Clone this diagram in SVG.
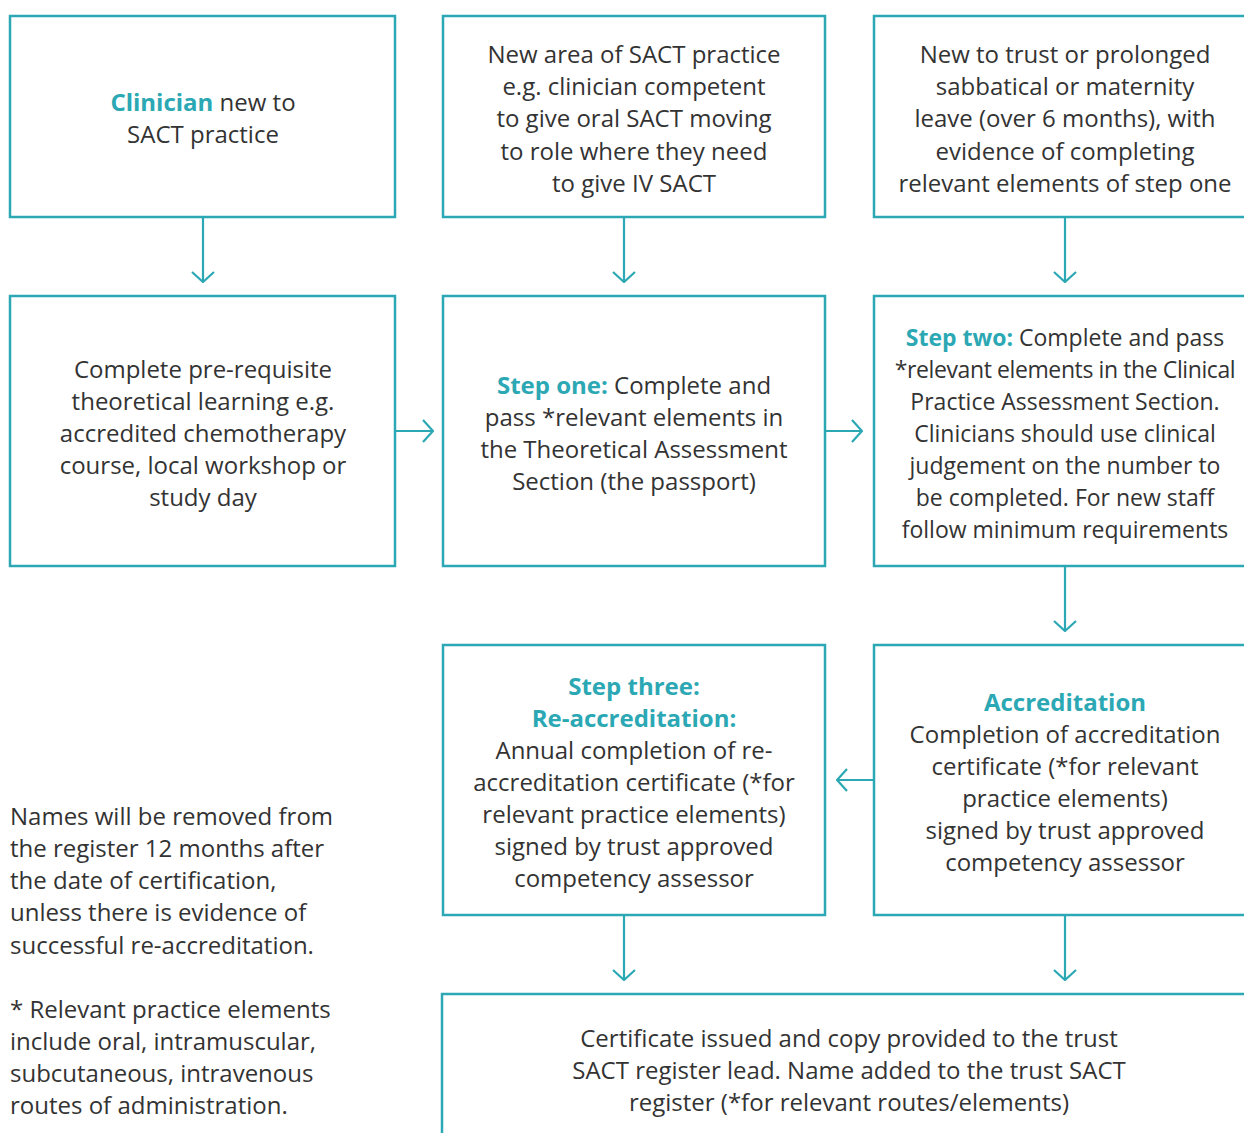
<svg xmlns="http://www.w3.org/2000/svg" width="1244" height="1133" viewBox="0 0 1244 1133">
<style>
.box{fill:#fff;stroke:#2ba8b4;stroke-width:2.5}
.t{font-family:"Open Sans","Noto Sans",sans-serif;font-size:24px;fill:#333;text-anchor:middle}
.s{font-size:23px}
.l{font-family:"Open Sans","Noto Sans",sans-serif;font-size:24px;fill:#333}
.b{font-weight:bold;fill:#2ba8b4}
.c{fill:none;stroke:#2ba8b4;stroke-width:2.2}
</style>
<defs>
<marker id="ah" viewBox="0 0 12 24" refX="11" refY="12" markerWidth="12" markerHeight="24" markerUnits="userSpaceOnUse" orient="auto">
<path d="M1,1 L11,12 L1,23" fill="none" stroke="#2ba8b4" stroke-width="2.2"/>
</marker>
</defs>
<rect width="1244" height="1133" fill="#fff"/>
<g id="connectors">
<line class="c" x1="203" y1="217" x2="203" y2="282" marker-end="url(#ah)"/>
<line class="c" x1="624" y1="217" x2="624" y2="282" marker-end="url(#ah)"/>
<line class="c" x1="1065" y1="217" x2="1065" y2="282" marker-end="url(#ah)"/>
<line class="c" x1="395" y1="431" x2="433" y2="431" marker-end="url(#ah)"/>
<line class="c" x1="825" y1="431" x2="862" y2="431" marker-end="url(#ah)"/>
<line class="c" x1="1065" y1="566" x2="1065" y2="631" marker-end="url(#ah)"/>
<line class="c" x1="874" y1="780" x2="837" y2="780" marker-end="url(#ah)"/>
<line class="c" x1="624" y1="915" x2="624" y2="980" marker-end="url(#ah)"/>
<line class="c" x1="1065" y1="915" x2="1065" y2="980" marker-end="url(#ah)"/>
</g>
<g id="n1"><rect class="box" x="10" y="16" width="385" height="201"/>
<text class="t"><tspan x="203" y="111"><tspan class="b">Clinician</tspan> new to</tspan><tspan x="203" y="143">SACT practice</tspan></text></g>
<g id="n2"><rect class="box" x="443" y="16" width="382" height="201"/>
<text class="t"><tspan x="634" y="63">New area of SACT practice</tspan><tspan x="634" y="95">e.g. clinician competent</tspan><tspan x="634" y="127">to give oral SACT moving</tspan><tspan x="634" y="160">to role where they need</tspan><tspan x="634" y="192">to give IV SACT</tspan></text></g>
<g id="n3"><rect class="box" x="874" y="16" width="390" height="201"/>
<text class="t"><tspan x="1065" y="63">New to trust or prolonged</tspan><tspan x="1065" y="95">sabbatical or maternity</tspan><tspan x="1065" y="127">leave (over 6 months), with</tspan><tspan x="1065" y="160">evidence of completing</tspan><tspan x="1065" y="192">relevant elements of step one</tspan></text></g>
<g id="n4"><rect class="box" x="10" y="296" width="385" height="270"/>
<text class="t"><tspan x="203" y="378">Complete pre-requisite</tspan><tspan x="203" y="410">theoretical learning e.g.</tspan><tspan x="203" y="442">accredited chemotherapy</tspan><tspan x="203" y="474">course, local workshop or</tspan><tspan x="203" y="506">study day</tspan></text></g>
<g id="n5"><rect class="box" x="443" y="296" width="382" height="270"/>
<text class="t"><tspan x="634" y="394"><tspan class="b">Step one:</tspan> Complete and</tspan><tspan x="634" y="426">pass *relevant elements in</tspan><tspan x="634" y="458">the Theoretical Assessment</tspan><tspan x="634" y="490">Section (the passport)</tspan></text></g>
<g id="n6"><rect class="box" x="874" y="296" width="390" height="270"/>
<text class="t s"><tspan x="1065" y="346"><tspan class="b">Step two:</tspan> Complete and pass</tspan><tspan x="1065" y="378" letter-spacing="-0.4">*relevant elements in the Clinical</tspan><tspan x="1065" y="410">Practice Assessment Section.</tspan><tspan x="1065" y="442">Clinicians should use clinical</tspan><tspan x="1065" y="474">judgement on the number to</tspan><tspan x="1065" y="506">be completed. For new staff</tspan><tspan x="1065" y="538">follow minimum requirements</tspan></text></g>
<g id="n7"><rect class="box" x="443" y="645" width="382" height="270"/>
<text class="t"><tspan x="634" y="695" class="b">Step three:</tspan><tspan x="634" y="727" class="b">Re-accreditation:</tspan><tspan x="634" y="759">Annual completion of re-</tspan><tspan x="634" y="791">accreditation certificate (*for</tspan><tspan x="634" y="823">relevant practice elements)</tspan><tspan x="634" y="855">signed by trust approved</tspan><tspan x="634" y="887">competency assessor</tspan></text></g>
<g id="n8"><rect class="box" x="874" y="645" width="390" height="270"/>
<text class="t"><tspan x="1065" y="711" class="b">Accreditation</tspan><tspan x="1065" y="743">Completion of accreditation</tspan><tspan x="1065" y="775">certificate (*for relevant</tspan><tspan x="1065" y="807">practice elements)</tspan><tspan x="1065" y="839">signed by trust approved</tspan><tspan x="1065" y="871">competency assessor</tspan></text></g>
<g id="n9"><rect class="box" x="442" y="994" width="822" height="160"/>
<text class="t"><tspan x="849" y="1047">Certificate issued and copy provided to the trust</tspan><tspan x="849" y="1079">SACT register lead. Name added to the trust SACT</tspan><tspan x="849" y="1111">register (*for relevant routes/elements)</tspan></text></g>
<g id="notes">
<text class="l"><tspan x="10" y="825">Names will be removed from</tspan><tspan x="10" y="857">the register 12 months after</tspan><tspan x="10" y="889">the date of certification,</tspan><tspan x="10" y="921">unless there is evidence of</tspan><tspan x="10" y="954">successful re-accreditation.</tspan><tspan x="10" y="1018">* Relevant practice elements</tspan><tspan x="10" y="1050">include oral, intramuscular,</tspan><tspan x="10" y="1082">subcutaneous, intravenous</tspan><tspan x="10" y="1114">routes of administration.</tspan></text>
</g>
</svg>
